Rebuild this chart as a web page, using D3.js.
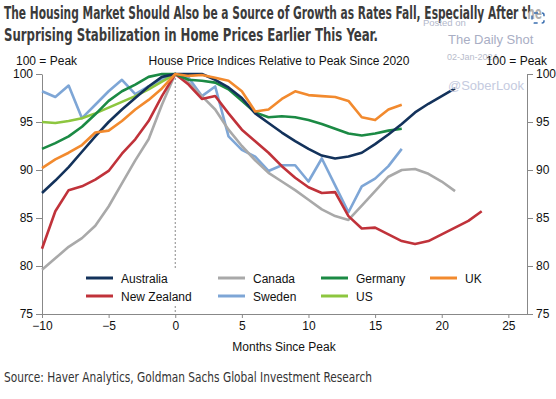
<!DOCTYPE html>
<html>
<head>
<meta charset="utf-8">
<script src="https://cdn.jsdelivr.net/npm/d3@7"></script>
<style>
  body { margin: 0; background: #fff; }
  text { font-family: "Liberation Sans", Arial, sans-serif; }
  .cond { font-family: "Liberation Sans Narrow", "DejaVu Sans Condensed", "Roboto Condensed", sans-serif; font-stretch: condensed; }
</style>
</head>
<body>
<svg width="556" height="399"></svg>
<script>
// months since peak, each series starts at -10
var startMonth = -10;
var australia = [87.6, 88.9, 90.3, 91.9, 93.5, 95.0, 96.3, 97.5, 98.7, 99.7, 100,
  100, 100, 99.4, 98.6, 97.5, 95.9, 94.9, 93.9, 93.0, 92.2, 91.5, 91.2, 91.4, 91.8, 92.7, 93.7, 94.8, 96.0, 96.9, 97.7, 98.5];
var canada = [79.6, 80.8, 82.0, 82.9, 84.2, 86.2, 88.6, 91.0, 93.2, 96.8, 100,
  99.1, 97.7, 96.3, 94.2, 92.5, 91.0, 89.7, 88.8, 87.9, 86.9, 85.9, 85.2, 84.8, 86.3, 87.8, 89.3, 90.0, 90.1, 89.6, 88.8, 87.8];
var germany = [92.2, 92.8, 93.5, 94.5, 95.8, 97.2, 98.2, 98.9, 99.7, 100, 100,
  99.4, 99.3, 99.1, 98.4, 97.2, 96.0, 95.5, 95.6, 95.5, 95.2, 94.8, 94.3, 93.8, 93.6, 93.8, 94.1, 94.3];
var uk = [90.2, 91.1, 91.8, 92.6, 93.9, 94.1, 95.1, 96.3, 97.3, 98.5, 100,
  99.8, 99.9, 99.6, 99.3, 98.2, 96.1, 96.3, 97.4, 98.2, 97.8, 97.7, 97.6, 97.2, 95.5, 95.2, 96.3, 96.8];
var newZealand = [81.8, 85.7, 87.9, 88.3, 89.0, 89.9, 91.7, 93.2, 95.1, 97.7, 100,
  98.9, 97.4, 97.7, 95.9, 94.2, 93.0, 91.8, 90.4, 89.2, 88.2, 87.6, 87.7, 85.2, 83.9, 84.0, 83.3, 82.6, 82.3, 82.6, 83.3, 84.0, 84.7, 85.7];
var sweden = [98.2, 97.6, 98.8, 95.4, 96.8, 98.2, 99.4, 97.9, 98.7, 99.4, 100,
  99.6, 97.7, 98.7, 93.5, 92.1, 91.4, 89.9, 90.5, 90.5, 88.8, 91.2, 88.4, 85.6, 88.3, 89.1, 90.4, 92.2];
var us = [95.0, 94.9, 95.1, 95.4, 95.9, 96.5, 97.1, 97.7, 98.4, 99.2, 100];

var yTicks = [75, 80, 85, 90, 95, 100];
var xTicks = [-10, -5, 0, 5, 10, 15, 20, 25];

var series = [
  {name: "Australia", values: australia, color: "#13325b"},
  {name: "Canada", values: canada, color: "#a9a9a9"},
  {name: "Germany", values: germany, color: "#1b8a44"},
  {name: "UK", values: uk, color: "#f28a2e"},
  {name: "New Zealand", values: newZealand, color: "#c0323a"},
  {name: "Sweden", values: sweden, color: "#7ea6d6"},
  {name: "US", values: us, color: "#8dc63f"}
];
var drawOrder = ["Sweden", "Canada", "New Zealand", "US", "Germany", "Australia", "UK"];

var svg = d3.select("svg");

var x = d3.scaleLinear().domain([-10, 26.4]).range([42, 527]);
var y = d3.scaleLinear().domain([75, 100]).range([314, 74]);

// titles
svg.append("text").attr("class", "cond").attr("x", 4).attr("y", 19)
  .attr("font-size", 17).attr("font-weight", "bold").attr("fill", "#3b3b3b")
  .attr("textLength", 538).attr("lengthAdjust", "spacingAndGlyphs")
  .text("The Housing Market Should Also be a Source of Growth as Rates Fall, Especially After the");
svg.append("text").attr("class", "cond").attr("x", 4).attr("y", 41)
  .attr("font-size", 17).attr("font-weight", "bold").attr("fill", "#3b3b3b")
  .attr("textLength", 374).attr("lengthAdjust", "spacingAndGlyphs")
  .text("Surprising Stabilization in Home Prices Earlier This Year.");

// watermark
svg.append("text").attr("x", 423).attr("y", 26).attr("font-size", 9.5).attr("fill", "#b3b9cc").text("Posted on");
svg.append("text").attr("x", 448).attr("y", 44).attr("font-size", 13).attr("fill", "#a9aec4").text("The Daily Shot");
svg.append("text").attr("x", 447).attr("y", 60).attr("font-size", 9).attr("fill", "#b8bccc").text("02-Jan-2024");
svg.append("circle").attr("cx", 538).attr("cy", 18).attr("r", 11).attr("fill", "#fff").attr("fill-opacity", 0.6);
svg.append("rect").attr("x", 532).attr("y", 13).attr("width", 12).attr("height", 10).attr("rx", 2)
  .attr("fill", "none").attr("stroke", "#3b6fb0").attr("stroke-width", 1.5).attr("stroke-dasharray", "4,4");

// chart headers
svg.append("text").attr("x", 16).attr("y", 65).attr("font-size", 12).attr("fill", "#111").text("100 = Peak");
svg.append("text").attr("x", 279).attr("y", 65).attr("font-size", 12).attr("fill", "#111")
  .attr("text-anchor", "middle").text("House Price Indices Relative to Peak Since 2020");
svg.append("text").attr("x", 547).attr("y", 65).attr("font-size", 12).attr("fill", "#111")
  .attr("text-anchor", "end").text("100 = Peak");

// axes
function styleAxis(g) {
  g.selectAll("path, line").attr("stroke", "#888");
  g.selectAll("text").attr("font-size", 12).attr("fill", "#111")
    .attr("font-family", "'Liberation Sans', Arial, sans-serif");
}
svg.append("g").attr("transform", "translate(42,0)")
  .call(d3.axisLeft(y).tickValues(yTicks).tickSize(6).tickSizeOuter(0).tickPadding(3))
  .call(styleAxis);
svg.append("g").attr("transform", "translate(527,0)")
  .call(d3.axisRight(y).tickValues(yTicks).tickSize(6).tickSizeOuter(0).tickPadding(3))
  .call(styleAxis);
svg.append("g").attr("transform", "translate(0,314)")
  .call(d3.axisBottom(x).tickValues(xTicks).tickSize(4).tickSizeOuter(0).tickPadding(3))
  .call(styleAxis);

svg.append("text").attr("x", 284).attr("y", 351).attr("font-size", 12).attr("fill", "#111")
  .attr("text-anchor", "middle").text("Months Since Peak");

// peak marker
svg.append("line").attr("x1", x(0)).attr("x2", x(0)).attr("y1", y(100)).attr("y2", y(75))
  .attr("stroke", "#888").attr("stroke-width", 1).attr("stroke-dasharray", "2,2");

// lines
var line = d3.line()
  .x(function(d, i) { return x(startMonth + i); })
  .y(function(d) { return y(d); });

drawOrder.forEach(function(name) {
  var s = series.find(function(d) { return d.name === name; });
  svg.append("path").datum(s.values)
    .attr("d", line)
    .attr("fill", "none")
    .attr("stroke", s.color)
    .attr("stroke-width", 2.6)
    .attr("stroke-linejoin", "round");
});

svg.append("text").attr("x", 448).attr("y", 90).attr("font-size", 13).attr("fill", "#c5cbe0").text("@SoberLook");

// legend
svg.append("rect").attr("x", 80).attr("y", 268).attr("width", 420).attr("height", 36).attr("fill", "#fff");
var legendCols = [86, 218, 321, 430];
var legend = svg.selectAll(".legend")
  .data(series)
  .enter()
  .append("g")
  .attr("class", "legend")
  .attr("transform", function(d, i) {
    return "translate(" + legendCols[i % 4] + "," + (i < 4 ? 278 : 296) + ")";
  });
legend.append("line").attr("x1", 0).attr("x2", 27).attr("y1", 0).attr("y2", 0)
  .attr("stroke", function(d) { return d.color; }).attr("stroke-width", 3);
legend.append("text").attr("x", 35).attr("y", 4.5).attr("font-size", 12).attr("fill", "#111")
  .text(function(d) { return d.name; });

// source
svg.append("text").attr("class", "cond").attr("x", 4).attr("y", 382)
  .attr("font-size", 13.5).attr("fill", "#333")
  .attr("textLength", 368).attr("lengthAdjust", "spacingAndGlyphs")
  .text("Source: Haver Analytics, Goldman Sachs Global Investment Research");
</script>
</body>
</html>
